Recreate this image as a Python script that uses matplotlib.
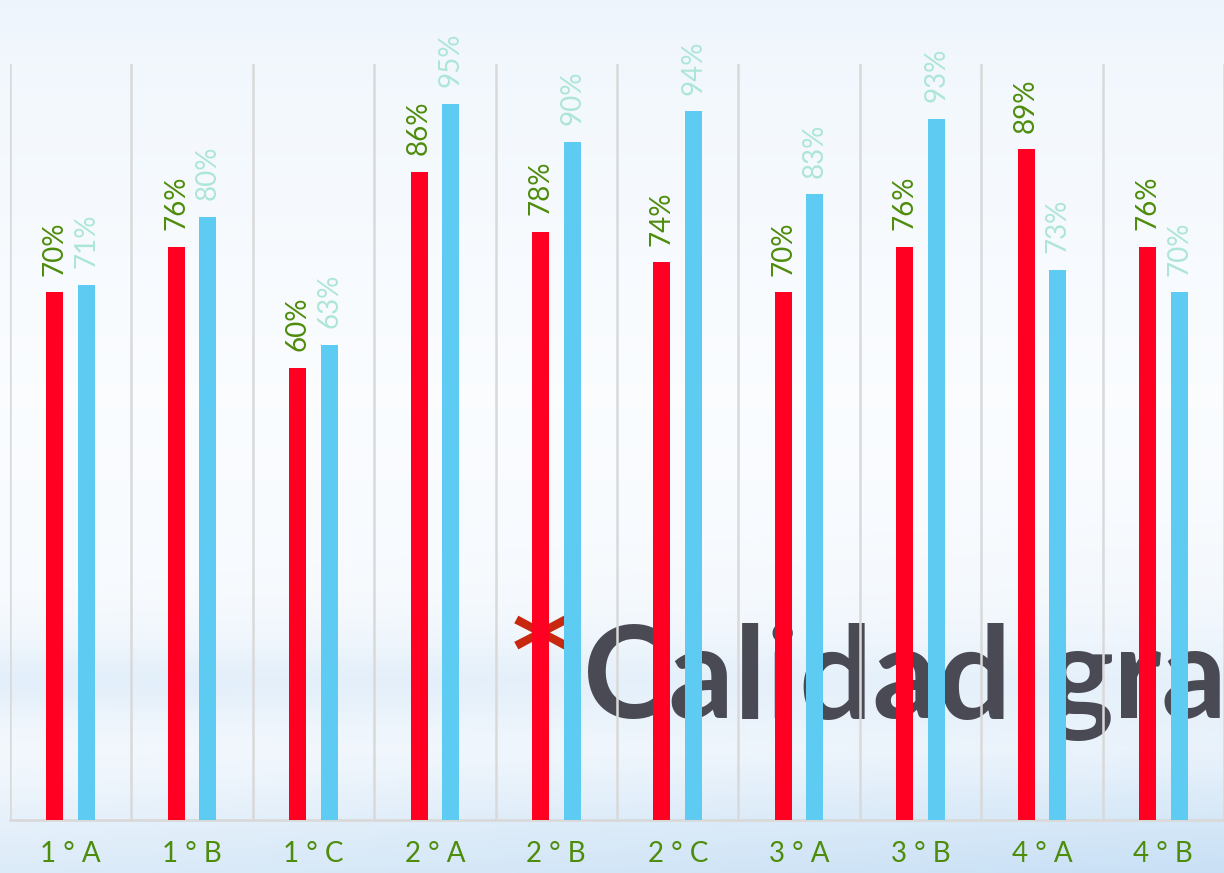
import matplotlib
matplotlib.use('Agg')
import matplotlib.pyplot as plt
import numpy as np
from matplotlib.colors import LinearSegmentedColormap

## grupos (cursos) y porcentajes de cada serie
cursos = ['1 ° A', '1 ° B', '1 ° C', '2 ° A', '2 ° B', '2 ° C', '3 ° A', '3 ° B', '4 ° A', '4 ° B']
serie_roja = [70, 76, 60, 86, 78, 74, 70, 76, 89, 76]
serie_azul = [71, 80, 63, 95, 90, 94, 83, 93, 73, 70]

fuente = ['Liberation Sans Narrow', 'Lato', 'DejaVu Sans']

W, H = 1224, 873
fig = plt.figure(figsize=(W / 100, H / 100), dpi=100)

## fondo degradado celeste
bg = fig.add_axes([0, 0, 1, 1], zorder=-2)
bg.axis('off')
yy = np.linspace(0, 1, 400)[:, None]
xx = np.linspace(0, 1, 400)[None, :]
vert = np.interp(yy, [0, 0.08, 0.45, 0.68, 0.78, 0.86, 0.94, 1.0],
                 [0.35, 0.22, 0.02, 0.1, 0.3, 0.2, 0.45, 0.6])
band = np.exp(-((yy - 0.78) / 0.05) ** 2) * (1 - xx) * 0.2
horiz = 0.3 * xx * np.clip((yy - 0.55) / 0.45, 0, 1)
z = np.clip(vert + band + horiz, 0, 1)
cmap = LinearSegmentedColormap.from_list('bg', ['#fbfdff', '#eef5fc', '#d8e9f8', '#c2dcf4'])
bg.imshow(z, cmap=cmap, vmin=0, vmax=1, aspect='auto', extent=[0, 1, 1, 0])
bg.set_xlim(0, 1)
bg.set_ylim(1, 0)

## titulo de la diapositiva detras del grafico
fig.text(512 / W, 1 - 689 / H, '*', color='#c8280f', fontsize=80, weight='bold',
         family='DejaVu Sans', ha='left', va='baseline', zorder=-1)
fig.text(583 / W, 1 - 718 / H, 'Calidad', color='#4a4a54', fontsize=93, weight='bold',
         family=['Lato', 'DejaVu Sans'], ha='left', va='baseline', zorder=-1)
fig.text(1046 / W, 1 - 718 / H, 'gra', color='#4a4a54', fontsize=93, weight='bold',
         family=['Lato', 'DejaVu Sans'], ha='left', va='baseline', zorder=-1)

ax = fig.add_axes([10 / W, 53 / H, (W - 10) / W, 756 / H])
ax.patch.set_alpha(0)

x = np.arange(len(cursos))
ancho = 0.14
off = 0.13
b1 = ax.bar(x - off, serie_roja, ancho, color='#ff0022', zorder=3)
b2 = ax.bar(x + off, serie_azul, ancho, color='#5ecbf3', zorder=3)

for rect, v in zip(b1, serie_roja):
    ax.annotate('{}%'.format(v), (rect.get_x() + rect.get_width() / 2, v),
                xytext=(0, 12), textcoords='offset points', rotation=90,
                ha='center', va='bottom', fontsize=20, color='#4e8c0b',
                family=fuente, annotation_clip=False)
for rect, v in zip(b2, serie_azul):
    ax.annotate('{}%'.format(v), (rect.get_x() + rect.get_width() / 2, v),
                xytext=(0, 12), textcoords='offset points', rotation=90,
                ha='center', va='bottom', fontsize=20, color='#ade6d8',
                family=fuente, annotation_clip=False)

ax.set_xlim(-0.5, len(cursos) - 0.5 - 6 / 122)
ax.set_ylim(0, 100.3)
ax.set_xticks(x)
ax.set_xticklabels(cursos, fontsize=20, color='#4e8c0b', family=fuente)
ax.set_xticks(np.arange(-0.5, len(cursos), 1), minor=True)
ax.tick_params(axis='x', which='both', length=0, pad=15)
ax.set_yticks([])
ax.grid(which='minor', axis='x', color='#d9d9d9', linewidth=1.8, zorder=1)
for s in ['top', 'right', 'left']:
    ax.spines[s].set_visible(False)
ax.spines['bottom'].set_color('#d9d9d9')
ax.spines['bottom'].set_linewidth(2)

fig.savefig('out.png', dpi=100)
